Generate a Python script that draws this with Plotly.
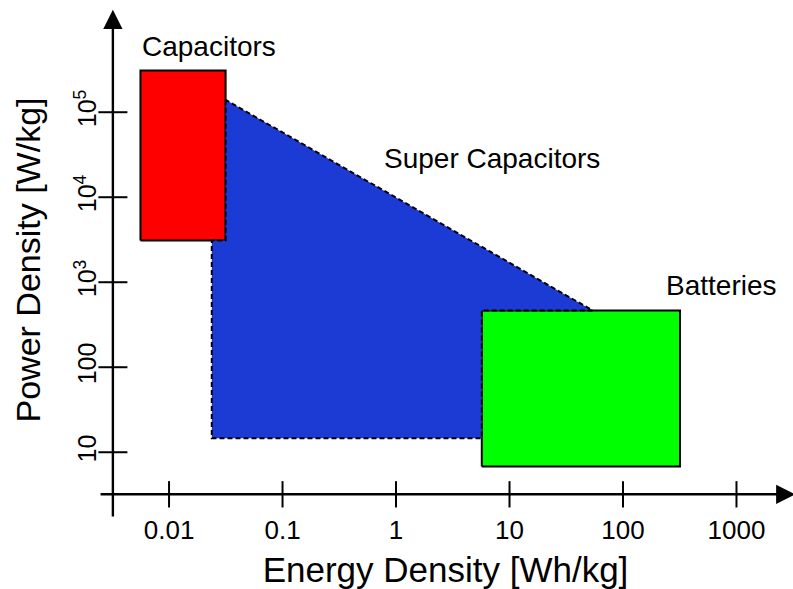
import math
import plotly.graph_objects as go

# ---- data (Energy density Wh/kg, Power density W/kg) ----
cap_energy = [0.0056, 0.0315]
cap_power = [3.1e3, 3.1e5]

bat_energy = [5.7, 318]
bat_power = [6.8, 465]

sc_energy = [0.0315, 0.0315, 0.0238, 0.0238, 5.7, 5.7, 54]
sc_power = [1.4e5, 3.1e3, 3.1e3, 14.6, 14.6, 465, 465]

x_ticks = [0.01, 0.1, 1, 10, 100, 1000]
x_tick_labels = ["0.01", "0.1", "1", "10", "100", "1000"]
y_ticks = [10, 100, 1e3, 1e4, 1e5]
y_tick_labels = ["10", "100", "10<sup>3</sup>", "10<sup>4</sup>", "10<sup>5</sup>"]

region_names = ["Capacitors", "Super Capacitors", "Batteries"]
region_label_energy = [0.0225, 7.0, 745]
region_label_power = [6.0e5, 2.83e4, 904]

# axis crossing point and extents
x_cross, y_cross = 0.0032, 3.2
x_axis_start, x_axis_end = 0.00242, 3300
y_axis_start, y_axis_end = 1.69, 1.6e6

FONT = "Liberation Sans, Arial, sans-serif"

def rect(xs, ys):
    return [xs[0], xs[1], xs[1], xs[0], xs[0]], [ys[0], ys[0], ys[1], ys[1], ys[0]]

fig = go.Figure()

rx, ry = rect(cap_energy, cap_power)
fig.add_trace(go.Scatter(x=rx, y=ry, mode="lines", fill="toself",
                         fillcolor="#ff0000", line=dict(color="black", width=2),
                         hoverinfo="skip"))
gx, gy = rect(bat_energy, bat_power)
fig.add_trace(go.Scatter(x=gx, y=gy, mode="lines", fill="toself",
                         fillcolor="#00ff00", line=dict(color="black", width=2),
                         hoverinfo="skip"))
fig.add_trace(go.Scatter(x=sc_energy + [sc_energy[0]], y=sc_power + [sc_power[0]],
                         mode="lines", fill="toself", fillcolor="#1b3bd4",
                         line=dict(color="black", width=2, dash="5px,3px"),
                         hoverinfo="skip"))

# cross ticks
tx, ty = [], []
for v in x_ticks:
    tx += [v, v, None]
    ty += [y_cross / 10 ** 0.155, y_cross * 10 ** 0.155, None]
for v in y_ticks:
    tx += [x_cross / 10 ** 0.128, x_cross * 10 ** 0.128, None]
    ty += [v, v, None]
fig.add_trace(go.Scatter(x=tx, y=ty, mode="lines", line=dict(color="black", width=2),
                         hoverinfo="skip"))

annotations = []
# axis lines with arrowheads
annotations.append(dict(x=math.log10(x_axis_end), y=math.log10(y_cross),
                        ax=math.log10(x_axis_start), ay=math.log10(y_cross),
                        xref="x", yref="y", axref="x", ayref="y", text="",
                        showarrow=True, arrowhead=2, arrowsize=1.6, arrowwidth=2.4,
                        arrowcolor="black", standoff=0, startstandoff=0))
annotations.append(dict(x=math.log10(x_cross), y=math.log10(y_axis_end),
                        ax=math.log10(x_cross), ay=math.log10(y_axis_start),
                        xref="x", yref="y", axref="x", ayref="y", text="",
                        showarrow=True, arrowhead=2, arrowsize=1.6, arrowwidth=2.4,
                        arrowcolor="black", standoff=0, startstandoff=0))
for name, ex, py in zip(region_names, region_label_energy, region_label_power):
    annotations.append(dict(x=math.log10(ex), y=math.log10(py), xref="x", yref="y",
                            text=name, showarrow=False,
                            font=dict(family=FONT, size=28, color="black"),
                            xanchor="center", yanchor="middle"))

fig.update_layout(
    width=793, height=589,
    margin=dict(l=98, r=0, t=8, b=77),
    paper_bgcolor="white", plot_bgcolor="white",
    showlegend=False,
    font=dict(family=FONT, color="black"),
    annotations=annotations,
    xaxis=dict(type="log", range=[-2.626, 3.498], showgrid=False, zeroline=False,
               showline=False, ticks="", tickvals=x_ticks, ticktext=x_tick_labels,
               tickfont=dict(family=FONT, size=26, color="black"),
               ticklabelstandoff=0, automargin=False,
               title=dict(text="Energy Density [Wh/kg]", standoff=19,
                          font=dict(family=FONT, size=35, color="black"))),
    yaxis=dict(type="log", range=[0.297, 6.226], showgrid=False, zeroline=False,
               showline=False, ticks="", tickvals=y_ticks, ticktext=y_tick_labels,
               tickangle=-90, ticklabelstandoff=-4,
               tickfont=dict(family=FONT, size=25, color="black"),
               automargin=False,
               title=dict(text="Power Density [W/kg]", standoff=18,
                          font=dict(family=FONT, size=34, color="black"))),
)

fig.write_html("out.html", config={"displayModeBar": False},
               post_script="document.body.style.margin='0';document.body.style.padding='0';document.body.style.overflow='hidden';")
